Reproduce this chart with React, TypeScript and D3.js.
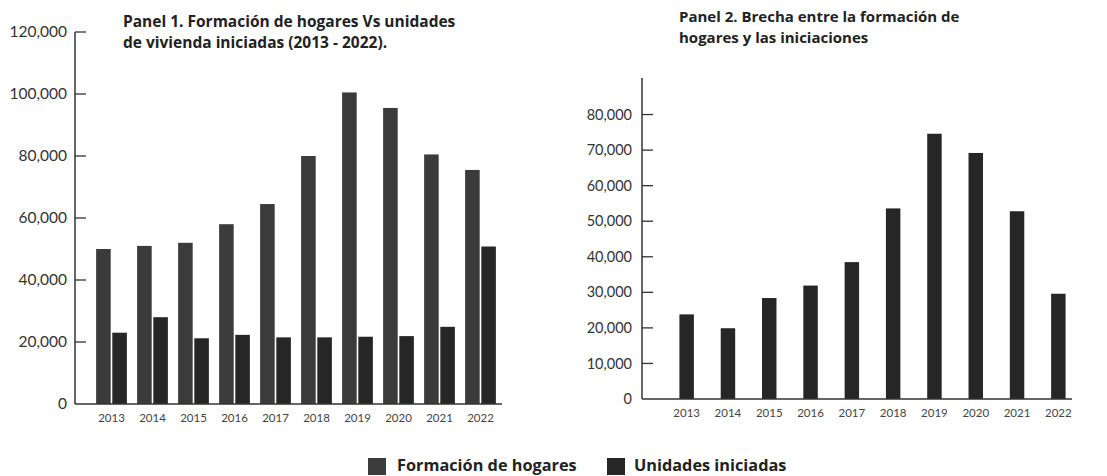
import React from 'react';
import * as d3 from 'd3';

// Data
const years = ['2013', '2014', '2015', '2016', '2017', '2018', '2019', '2020', '2021', '2022'];
const formacionHogares = [50000, 51000, 52000, 58000, 64500, 80000, 100500, 95500, 80500, 75500];
const unidadesIniciadas = [23000, 28000, 21200, 22300, 21500, 21500, 21700, 21900, 24900, 50800];
const brecha = [23800, 19900, 28400, 31900, 38500, 53600, 74600, 69200, 52800, 29600];

const panel1Ticks = [0, 20000, 40000, 60000, 80000, 100000, 120000];
const panel2Ticks = [0, 10000, 20000, 30000, 40000, 50000, 60000, 70000, 80000];

const seriesNames = ['Formación de hogares', 'Unidades iniciadas'];
const seriesColors = ['#3b3b3b', '#262626'];

const fmt = d3.format(',');
const labelFont = 'Lato, "Open Sans", sans-serif';
const titleFont = '"Open Sans", Lato, sans-serif';

const App = () => {
    const width = 1107;
    const height = 476;

    // Panel 1 scales
    const y1 = d3.scaleLinear().domain([0, 120000]).range([404, 32]);
    const x1 = d3.scaleBand().domain(years).range([91, 501]).paddingInner(0.25).paddingOuter(0.125);
    const inner = d3.scaleBand().domain(['F', 'U']).range([0, x1.bandwidth()]).paddingInner(0.1);

    // Panel 2 scales
    const y2 = d3.scaleLinear().domain([0, 90000]).range([399, 79]);
    const x2 = d3.scaleBand().domain(years).range([666, 1079]).paddingInner(0.65).paddingOuter(0.325);

    const axisColor = '#333';

    return (
        <svg width={width} height={height} style={{ position: 'absolute', left: 0, top: 0, background: '#fff' }}>
            {/* Panel 1 title */}
            <text x={123} y={27} fontFamily={titleFont} fontWeight={700} fontSize={15.5} fill="#222">
                <tspan x={123}>Panel 1. Formación de hogares Vs unidades</tspan>
                <tspan x={123} dy={21}>de vivienda iniciadas (2013 - 2022).</tspan>
            </text>

            {/* Panel 1 bars */}
            {years.map((yr, i) => (
                <g key={'p1' + yr} transform={`translate(${x1(yr)},0)`}>
                    <rect x={inner('F')} y={y1(formacionHogares[i])} width={inner.bandwidth()}
                        height={y1(0) - y1(formacionHogares[i])} fill={seriesColors[0]} />
                    <rect x={inner('U')} y={y1(unidadesIniciadas[i])} width={inner.bandwidth()}
                        height={y1(0) - y1(unidadesIniciadas[i])} fill={seriesColors[1]} />
                </g>
            ))}

            {/* Panel 1 axes */}
            <line x1={75} x2={75} y1={y1(120000)} y2={y1(0)} stroke={axisColor} strokeWidth={1.5} />
            <line x1={75} x2={502} y1={y1(0)} y2={y1(0)} stroke={axisColor} strokeWidth={1.5} />
            {panel1Ticks.map(t => (
                <g key={'t1' + t}>
                    {t > 0 && <line x1={75} x2={86} y1={y1(t)} y2={y1(t)} stroke={axisColor} strokeWidth={1.3} />}
                    <text x={67} y={y1(t)} dy="0.35em" textAnchor="end" fontFamily={labelFont}
                        fontSize={15.5} fill="#333">{fmt(t)}</text>
                </g>
            ))}
            {years.map(yr => (
                <text key={'xl1' + yr} x={x1(yr) + x1.bandwidth() / 2} y={422} textAnchor="middle"
                    fontFamily={labelFont} fontSize={11.5} fill="#444">{yr}</text>
            ))}

            {/* Panel 2 title */}
            <text x={679} y={22} fontFamily={titleFont} fontWeight={700} fontSize={15} fill="#222">
                <tspan x={679}>Panel 2. Brecha entre la formación de</tspan>
                <tspan x={679} dy={21}>hogares y las iniciaciones</tspan>
            </text>

            {/* Panel 2 bars */}
            {years.map((yr, i) => (
                <rect key={'p2' + yr} x={x2(yr)} y={y2(brecha[i])} width={x2.bandwidth()}
                    height={y2(0) - y2(brecha[i])} fill={seriesColors[1]} />
            ))}

            {/* Panel 2 axes */}
            <line x1={642} x2={642} y1={78} y2={y2(0)} stroke={axisColor} strokeWidth={1.5} />
            <line x1={642} x2={1072} y1={y2(0)} y2={y2(0)} stroke={axisColor} strokeWidth={1.5} />
            {panel2Ticks.map(t => (
                <g key={'t2' + t}>
                    {t > 0 && <line x1={642} x2={653} y1={y2(t)} y2={y2(t)} stroke={axisColor} strokeWidth={1.3} />}
                    <text x={632} y={y2(t)} dy="0.35em" textAnchor="end" fontFamily={labelFont}
                        fontSize={14.5} fill="#333">{fmt(t)}</text>
                </g>
            ))}
            {years.map(yr => (
                <text key={'xl2' + yr} x={x2(yr) + x2.bandwidth() / 2} y={417} textAnchor="middle"
                    fontFamily={labelFont} fontSize={11.5} fill="#444">{yr}</text>
            ))}

            {/* Legend */}
            <rect x={368} y={458} width={18} height={17} fill={seriesColors[0]} />
            <text x={397} y={471} fontFamily={titleFont} fontWeight={700} fontSize={16.3} fill="#222">{seriesNames[0]}</text>
            <rect x={607} y={458} width={18} height={17} fill={seriesColors[1]} />
            <text x={634} y={471} fontFamily={titleFont} fontWeight={700} fontSize={16.3} fill="#222">{seriesNames[1]}</text>
        </svg>
    );
};

export default App;
